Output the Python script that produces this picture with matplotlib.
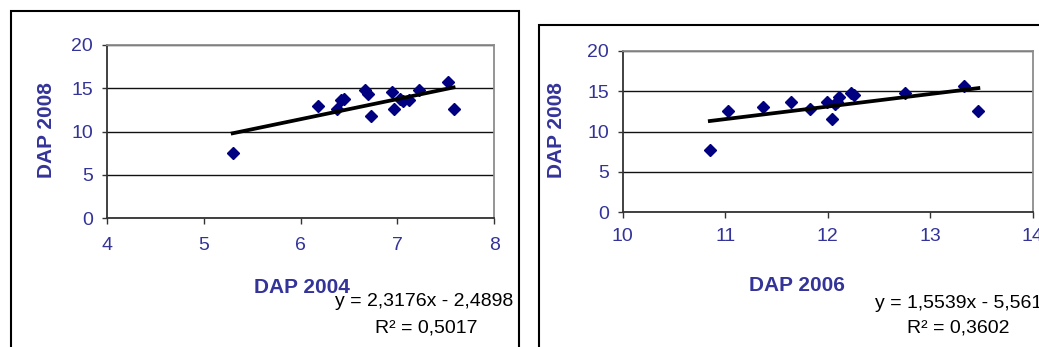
import matplotlib
matplotlib.use('Agg')
import matplotlib.pyplot as plt
from matplotlib.patches import Rectangle
import numpy as np

# DAP values
x_2004 = [5.30, 6.18, 6.38, 6.42, 6.45, 6.67, 6.70, 6.73, 6.94, 6.97, 7.03, 7.06, 7.12, 7.22, 7.52, 7.58]
y_2008_a = [7.5, 12.9, 12.6, 13.6, 13.8, 14.8, 14.3, 11.8, 14.6, 12.6, 13.8, 13.5, 13.6, 14.8, 15.7, 12.6]

x_2006 = [10.85, 11.03, 11.37, 11.64, 11.83, 11.99, 12.04, 12.07, 12.09, 12.11, 12.23, 12.26, 12.75, 13.33, 13.47]
y_2008_b = [7.7, 12.5, 13.0, 13.6, 12.8, 13.7, 11.6, 13.4, 13.7, 14.3, 14.8, 14.5, 14.8, 15.6, 12.5]

# trendline coefficients (slope, intercept) and labels
fit_a = (2.3176, -2.4898)
fit_b = (1.5539, -5.5617)
eq_a = 'y = 2,3176x - 2,4898'
r2_a = 'R² = 0,5017'
eq_b = 'y = 1,5539x - 5,5617'
r2_b = 'R² = 0,3602'

W, H = 1039, 347
BLUE = '#333399'
plt.rcParams['font.family'] = ['Liberation Sans', 'DejaVu Sans']

fig = plt.figure(figsize=(W / 100, H / 100), dpi=100)


def px_axes(x0, y0, x1, y1):
    # pixel box (top-left origin) -> figure fraction axes
    return fig.add_axes([x0 / W, 1 - y1 / H, (x1 - x0) / W, (y1 - y0) / H])


def style(ax, xlim, xticks, xpad):
    ax.set_xlim(*xlim)
    ax.set_ylim(0, 20)
    ax.set_xticks(xticks)
    ax.set_yticks([0, 5, 10, 15, 20])
    ax.grid(axis='y', color='#111111', lw=1.0)
    ax.set_axisbelow(True)
    for s in ['top', 'right']:
        ax.spines[s].set_color('#8c8c8c')
        ax.spines[s].set_linewidth(1.3)
    for s in ['left', 'bottom']:
        ax.spines[s].set_color('#333333')
        ax.spines[s].set_linewidth(1.3)
    ax.tick_params(axis='y', direction='out', length=3.6, width=1, color='#333333',
                   labelsize=14, labelcolor=BLUE, pad=6.2)
    ax.tick_params(axis='x', direction='out', length=4.3, width=1, color='#333333',
                   labelsize=14, labelcolor=BLUE, pad=xpad)


def scatter_fit(ax, xs, ys, fit):
    xs = np.array(xs)
    ax.plot(xs, ys, 'D', color='#000080', ms=6.4, mec='#000080', zorder=3)
    xl = np.array([xs.min(), xs.max()])
    ax.plot(xl, fit[0] * xl + fit[1], color='black', lw=2.7, zorder=4)


# left chart
ax1 = px_axes(106.7, 44.7, 494.3, 218.3)
style(ax1, (4, 8), [4, 5, 6, 7, 8], 9.2)
scatter_fit(ax1, x_2004, y_2008_a, fit_a)
ax1.set_xlabel('DAP 2004', fontsize=15, fontweight='bold', color=BLUE, va='center')
ax1.xaxis.set_label_coords(0.504, -0.401)
ax1.set_ylabel('DAP 2008', fontsize=15, fontweight='bold', color=BLUE, va='center')
ax1.yaxis.set_label_coords(-0.155, 0.509)

# right chart
ax2 = px_axes(622.7, 50.7, 1032.7, 212.3)
style(ax2, (10, 14), [10, 11, 12, 13, 14], 7.2)
scatter_fit(ax2, x_2006, y_2008_b, fit_b)
ax2.set_xlabel('DAP 2006', fontsize=15, fontweight='bold', color=BLUE, va='center')
ax2.xaxis.set_label_coords(0.424, -0.45)
ax2.set_ylabel('DAP 2008', fontsize=15, fontweight='bold', color=BLUE, va='center')
ax2.yaxis.set_label_coords(-0.161, 0.509)

# trendline equations
fig.text(513 / W, 1 - 301 / H, eq_a, fontsize=14, ha='right', va='center')
fig.text(426 / W, 1 - 328 / H, r2_a, fontsize=14, ha='center', va='center')
fig.text(875 / W, 1 - 303 / H, eq_b, fontsize=14, ha='left', va='center')
fig.text(958 / W, 1 - 328 / H, r2_b, fontsize=14, ha='center', va='center')

# chart area frames (cropped at the image edges)
fig.patches.append(Rectangle((11 / W, -0.2), (519.3 - 11) / W, 1 - 11 / H + 0.2,
                             transform=fig.transFigure, fill=False, ec='black', lw=1.5))
fig.patches.append(Rectangle((539 / W, -0.2), 0.6, 1 - 25 / H + 0.2,
                             transform=fig.transFigure, fill=False, ec='black', lw=1.5))

fig.savefig('out.png', dpi=100)
